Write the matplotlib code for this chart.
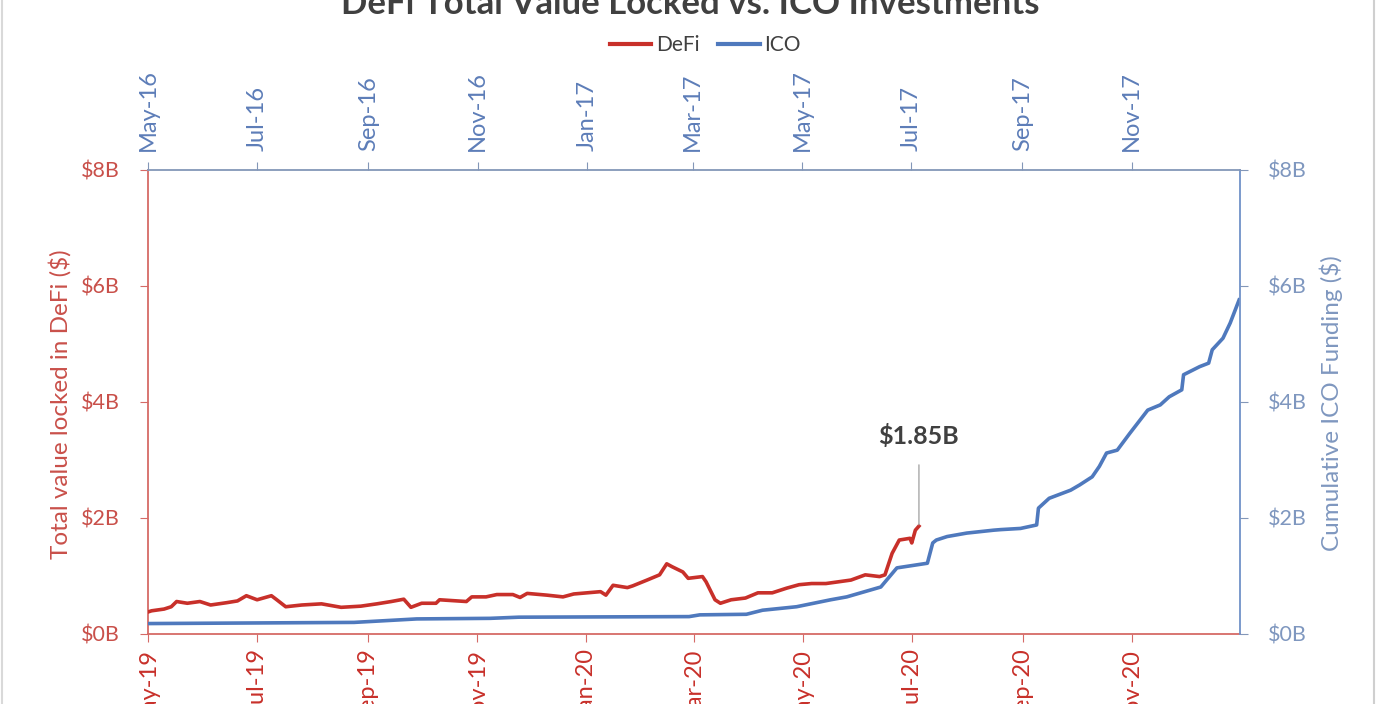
import numpy as np
import pandas as pd
import matplotlib
matplotlib.use('Agg')
import matplotlib.pyplot as plt
import matplotlib.dates as mdates
from matplotlib.ticker import FuncFormatter
from matplotlib.lines import Line2D

plt.rcParams['font.family'] = ['Lato', 'DejaVu Sans']

# DeFi total value locked ($B), bottom date axis
defi_dates = ['2019-05-01', '2019-05-03', '2019-05-10', '2019-05-14', '2019-05-17',
              '2019-05-23', '2019-05-30', '2019-06-05', '2019-06-14', '2019-06-20',
              '2019-06-25', '2019-07-01', '2019-07-09', '2019-07-12', '2019-07-17',
              '2019-07-26', '2019-08-06', '2019-08-17', '2019-08-28', '2019-09-06',
              '2019-09-14', '2019-09-21', '2019-09-25', '2019-10-01', '2019-10-09',
              '2019-10-11', '2019-10-26', '2019-10-29', '2019-11-06', '2019-11-12',
              '2019-11-21', '2019-11-25', '2019-11-29', '2019-12-10', '2019-12-19',
              '2019-12-25', '2020-01-09', '2020-01-12', '2020-01-16', '2020-01-24',
              '2020-01-27', '2020-02-04', '2020-02-11', '2020-02-15', '2020-02-18',
              '2020-02-24', '2020-02-27', '2020-03-06', '2020-03-08', '2020-03-13',
              '2020-03-16', '2020-03-22', '2020-03-30', '2020-04-06', '2020-04-14',
              '2020-04-22', '2020-04-29', '2020-05-06', '2020-05-14', '2020-05-21',
              '2020-05-28', '2020-06-05', '2020-06-13', '2020-06-16', '2020-06-20',
              '2020-06-24', '2020-06-30', '2020-07-01', '2020-07-03', '2020-07-05']
defi_values = [0.38, 0.40, 0.43, 0.47, 0.56,
               0.53, 0.56, 0.50, 0.54, 0.57,
               0.66, 0.59, 0.66, 0.59, 0.47,
               0.50, 0.52, 0.46, 0.48, 0.52,
               0.56, 0.60, 0.46, 0.53, 0.53,
               0.59, 0.56, 0.64, 0.64, 0.68,
               0.68, 0.63, 0.70, 0.67, 0.64,
               0.69, 0.73, 0.67, 0.84, 0.80,
               0.83, 0.93, 1.02, 1.21, 1.16,
               1.07, 0.96, 0.99, 0.90, 0.59,
               0.53, 0.59, 0.62, 0.71, 0.71,
               0.79, 0.85, 0.87, 0.87, 0.90,
               0.93, 1.02, 0.99, 1.02, 1.39,
               1.62, 1.65, 1.57, 1.79, 1.86]

# cumulative ICO funding ($B), top date axis
ico_dates = ['2016-05-01', '2016-08-24', '2016-09-28', '2016-11-08', '2016-11-24',
             '2017-02-27', '2017-03-05', '2017-03-31', '2017-04-09', '2017-04-28',
             '2017-05-17', '2017-05-26', '2017-06-14', '2017-06-23', '2017-07-10',
             '2017-07-13', '2017-07-15', '2017-07-21', '2017-08-01', '2017-08-16',
             '2017-08-20', '2017-08-31', '2017-09-09', '2017-09-10', '2017-09-16',
             '2017-09-28', '2017-10-03', '2017-10-10', '2017-10-14', '2017-10-18',
             '2017-10-24', '2017-10-31', '2017-11-10', '2017-11-17', '2017-11-22',
             '2017-11-29', '2017-11-30', '2017-12-09', '2017-12-14', '2017-12-16',
             '2017-12-22', '2017-12-26', '2017-12-31']
ico_values = [0.18, 0.20, 0.26, 0.27, 0.29,
              0.30, 0.33, 0.34, 0.41, 0.47,
              0.59, 0.64, 0.81, 1.14, 1.22,
              1.57, 1.62, 1.68, 1.74, 1.79,
              1.80, 1.82, 1.88, 2.17, 2.34,
              2.48, 2.57, 2.71, 2.89, 3.12,
              3.17, 3.46, 3.86, 3.95, 4.09,
              4.21, 4.47, 4.61, 4.67, 4.90,
              5.10, 5.36, 5.76]

defi_x = pd.to_datetime(defi_dates)
ico_x = pd.to_datetime(ico_dates)

red = '#c8302a'
red_txt = '#c9504a'
blue = '#4f79bd'
blue_txt = '#7f97bf'

fig = plt.figure(figsize=(13.83, 7.04), dpi=100)
rect = [148/1383, 1 - 634/704, (1240 - 148)/1383, (634 - 170)/704]
ax = fig.add_axes(rect)
ax2 = fig.add_axes(rect, label='ico')
ax2.patch.set_visible(False)

ax.plot(defi_x, defi_values, color=red, lw=2.6, zorder=3)
ax2.plot(ico_x, ico_values, color=blue, lw=2.6, zorder=2)

fmt = FuncFormatter(lambda v, p: '$%dB' % v)
for a in (ax, ax2):
    a.set_ylim(0, 8)
    a.set_yticks([0, 2, 4, 6, 8])
    a.yaxis.set_major_formatter(fmt)
    a.xaxis.set_major_locator(mdates.MonthLocator(bymonth=[1, 3, 5, 7, 9, 11]))
    a.xaxis.set_major_formatter(mdates.DateFormatter('%b-%y'))

ax.set_xlim(pd.Timestamp('2019-05-01'), pd.Timestamp('2020-12-31 12:00'))
ax2.set_xlim(pd.Timestamp('2016-05-01'), pd.Timestamp('2017-12-31 12:00'))

ax.spines['top'].set_visible(False)
ax.spines['right'].set_visible(False)
ax.spines['left'].set_color('#d56a66')
ax.spines['bottom'].set_color('#d56a66')
ax2.spines['left'].set_visible(False)
ax2.spines['bottom'].set_visible(False)
ax2.spines['top'].set_color('#8397b8')
ax2.spines['right'].set_color('#7192c8')
for a in (ax, ax2):
    for s in a.spines.values():
        s.set_linewidth(1.3)

ax.tick_params(axis='y', colors='#d56a66', labelcolor=red_txt, labelsize=15.5,
               length=6, pad=14)
ax.tick_params(axis='x', colors='#d56a66', labelcolor=red, labelsize=17,
               length=6, pad=4, labelrotation=90)
ax2.xaxis.tick_top()
ax2.yaxis.tick_right()
ax2.tick_params(axis='y', colors='#8397b8', labelcolor=blue_txt, labelsize=15.5,
                length=6, pad=14)
ax2.tick_params(axis='x', colors='#8397b8', labelcolor='#5d7db8', labelsize=17,
                length=6, pad=8, labelrotation=90)

fig.text(60/1383, 1 - 404/704, 'Total value locked in DeFi ($)', rotation=90,
         ha='center', va='center', color=red_txt, fontsize=17.5)
fig.text(1331/1383, 1 - 403/704, 'Cumulative ICO Funding ($)', rotation=90,
         ha='center', va='center', color=blue_txt, fontsize=17.5)

# annotation for the last DeFi value
ax.annotate('$%.2fB' % 1.85, xy=(defi_x[-1], defi_values[-1]),
            xytext=(defi_x[-1], 3.41), ha='center', va='center',
            fontsize=18, fontweight='bold', color='#404040',
            arrowprops=dict(arrowstyle='-', color='#a8a8a8', lw=1,
                            shrinkA=10, shrinkB=1))

fig.text(690/1383, 1 - 14/704, 'DeFi Total Value Locked vs. ICO Investments',
         ha='center', va='baseline', fontsize=25, fontweight='bold', color='#404040')

handles = [Line2D([], [], color=red, lw=3), Line2D([], [], color=blue, lw=3)]
fig.legend(handles, ['DeFi', 'ICO'], loc='center', bbox_to_anchor=(705/1383, 1 - 45/704),
           ncol=2, frameon=False, fontsize=15, handlelength=2.0, handletextpad=0.2,
           columnspacing=0.9, labelcolor='#404040')

# screenshot frame lines
fig.add_artist(Line2D([2/1383, 2/1383], [0, 1], color='#d9d9d9', lw=1.5))
fig.add_artist(Line2D([1374/1383, 1374/1383], [0, 1], color='#cfcfcf', lw=1.5))

fig.savefig('out.png', dpi=100)
